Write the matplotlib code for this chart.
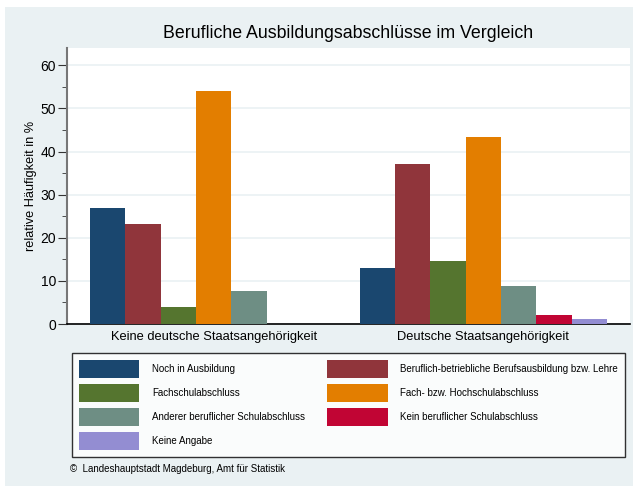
import matplotlib.pyplot as plt
import matplotlib.patches as mpatches
import numpy as np

plt.rcParams['font.family'] = ['Liberation Sans', 'DejaVu Sans']

groups = ['Keine deutsche Staatsangehörigkeit', 'Deutsche Staatsangehörigkeit']
series = ['Noch in Ausbildung',
          'Beruflich-betriebliche Berufsausbildung bzw. Lehre',
          'Fachschulabschluss',
          'Fach- bzw. Hochschulabschluss',
          'Anderer beruflicher Schulabschluss',
          'Kein beruflicher Schulabschluss',
          'Keine Angabe']
keine_deutsche = [27.0, 23.2, 4.0, 54.0, 7.7, 0.0, 0.0]
deutsche = [13.1, 37.0, 14.5, 43.4, 8.9, 2.1, 1.1]
colors = ['#1a476f', '#90353b', '#55752f', '#e37e00',
          '#6e8e84', '#c10534', '#938dd2']

bg = '#eaf1f3'
fig = plt.figure(figsize=(6.38, 4.91), dpi=100)
fig.patches.append(mpatches.Rectangle((5 / 638, 5 / 491), 628 / 638, 479 / 491,
                                      transform=fig.transFigure,
                                      facecolor=bg, edgecolor='none', zorder=-10))

ax = fig.add_axes([67 / 638, 1 - 324 / 491, 563 / 638, 276 / 491])
ax.set_facecolor('white')

centers = [0.0, 7.63]
vals = [keine_deutsche, deutsche]
handles = []
for i, name in enumerate(series):
    xs = [c + (i - 3) for c in centers]
    ys = [v[i] for v in vals]
    b = ax.bar(xs, ys, width=1.0, color=colors[i], linewidth=0, label=name, zorder=3)
    handles.append(b)

ax.set_xlim(-4.15, 11.78)
ax.set_ylim(0, 64)
ax.set_yticks(np.arange(0, 61, 10))
ax.set_yticks(np.arange(5, 60, 10), minor=True)
ax.yaxis.grid(True, which='major', color=bg, linewidth=1.2, zorder=0)
ax.set_xticks(centers)
ax.set_xticklabels(groups, fontsize=9.3)
ax.tick_params(axis='x', length=0, pad=5)
ax.tick_params(axis='y', which='major', length=6.5, pad=1.5, labelsize=10, color='#333333')
ax.tick_params(axis='y', which='minor', length=3.5, color='#333333')
ax.spines['top'].set_visible(False)
ax.spines['right'].set_visible(False)
ax.spines['left'].set_color('#777777')
ax.spines['left'].set_linewidth(1.5)
ax.spines['bottom'].set_color('black')
ax.spines['bottom'].set_linewidth(1.2)
ax.set_ylabel('relative Häufigkeit in %', fontsize=9.2, labelpad=2.5)

fig.text(348 / 638, 1 - 33 / 491, 'Berufliche Ausbildungsabschlüsse im Vergleich',
         ha='center', va='center', fontsize=12.8)

order = [0, 2, 4, 6, 1, 3, 5]
leg = fig.legend([handles[k] for k in order], [series[k] for k in order],
                 loc='upper left', ncol=2, mode='expand',
                 bbox_to_anchor=(72 / 638, (491 - 457) / 491, 553 / 638, 104 / 491),
                 fontsize=7, frameon=True, fancybox=False, edgecolor='black',
                 handlelength=6.2, handleheight=2.47, labelspacing=0.62,
                 handletextpad=1.3, borderpad=0.72, borderaxespad=0)
leg.get_frame().set_linewidth(1.0)

fig.text(70 / 638, 1 - 469 / 491, '©  Landeshauptstadt Magdeburg, Amt für Statistik',
         ha='left', va='center', fontsize=7.05)

fig.savefig('out.png', dpi=100, facecolor='white')
